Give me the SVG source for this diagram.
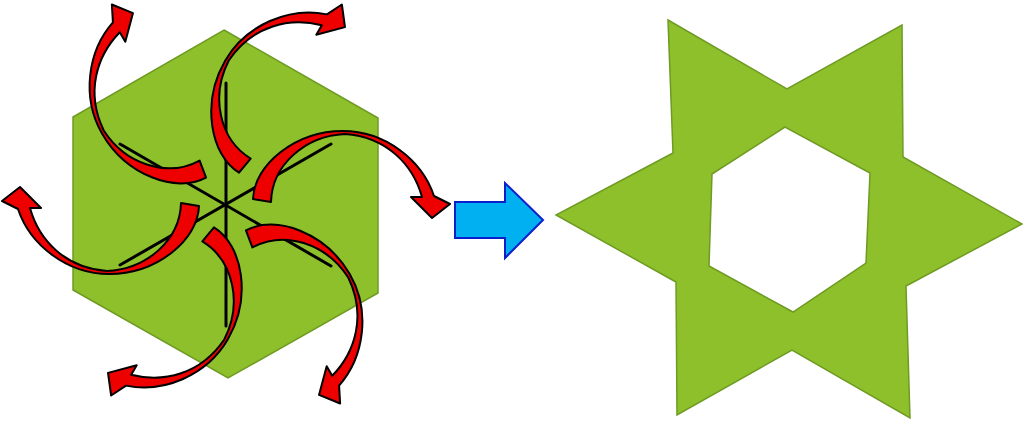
<svg xmlns="http://www.w3.org/2000/svg" xmlns:xlink="http://www.w3.org/1999/xlink" width="1024" height="421" viewBox="0 0 1024 421">
  <style>
    .green { fill: #8dc02b; stroke: #6f9a23; stroke-width: 1.5; stroke-linejoin: miter; }
    .axis { stroke: #000; stroke-width: 3; stroke-linecap: round; fill: none; }
    .red { fill: #ee0000; stroke: #000; stroke-width: 2; stroke-linejoin: round; }
    .blue { fill: #00b0f0; stroke: #0a1fcc; stroke-width: 2; stroke-linejoin: miter; }
  </style>
  <defs>
    <path id="curvedArrow" class="red" d="M253,199 C254,165 295,131 343,131 C385,131 422,160 434,196 L450,204 L432,218 L411,197 L422,197 C413,165 387,137 345,134 C305,136 272,165 271,202 Z"/>
  </defs>
  <rect width="1024" height="421" fill="#fff"/>
  <g id="hexagon">
    <polygon class="green" points="224,30 378,118 378,293 228,378 73,290 73,117"/>
  </g>
  <g id="axes">
    <line class="axis" x1="226" y1="83" x2="226" y2="326"/>
    <line class="axis" x1="120" y1="144" x2="331" y2="266"/>
    <line class="axis" x1="331" y1="144" x2="120" y2="265"/>
  </g>
  <g id="connectors">
    <use xlink:href="#curvedArrow" transform="translate(-3,-4) rotate(-120,226,203)"/>
    <use xlink:href="#curvedArrow" transform="translate(3,-5) rotate(-60,226,203)"/>
    <use xlink:href="#curvedArrow"/>
    <use xlink:href="#curvedArrow" transform="translate(3,6) rotate(60,226,203)"/>
    <use xlink:href="#curvedArrow" transform="translate(-2,-1) rotate(120,226,203)"/>
    <use xlink:href="#curvedArrow" transform="translate(0,-1) rotate(180,226,203)"/>
  </g>
  <g id="blue-arrow">
    <polygon class="blue" points="455,202 505,202 505,183 543,220 505,258 505,238 455,238"/>
  </g>
  <g id="star">
    <path class="green" fill-rule="evenodd" d="M668,20 L787,89 L902,25 L903,157 L1022,224 L906,286 L910,418 L792,350 L677,415 L676,282 L556,215 L673,153 Z M785,127 L712,174 L709,266 L793,312 L866,263 L870,173 Z"/>
  </g>
</svg>
